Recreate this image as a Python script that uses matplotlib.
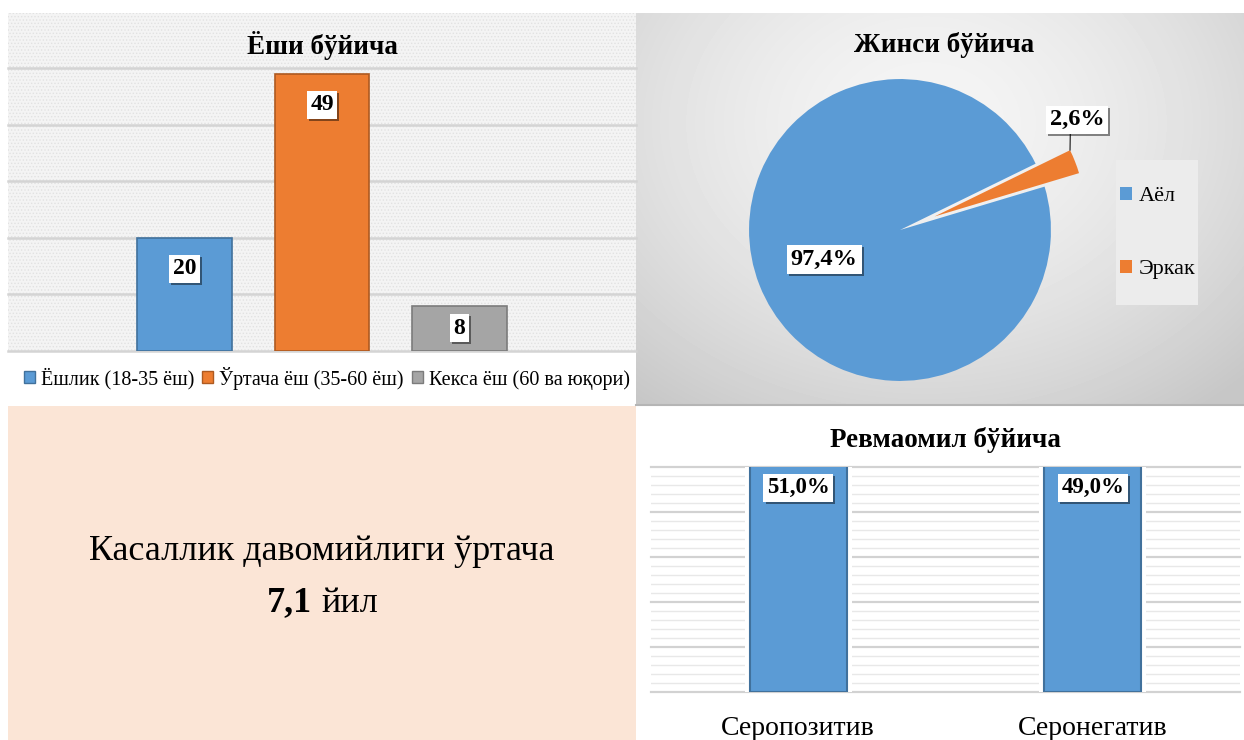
import matplotlib.pyplot as plt
import matplotlib.patches as mpatches
import matplotlib.patheffects as pe
import numpy as np

W, H = 1244, 740

# data
age_labels = ['Ёшлик (18-35 ёш)', 'Ўртача ёш (35-60 ёш)', 'Кекса ёш (60 ва юқори)']
age_counts = [20, 49, 8]
age_colors = ['#5b9bd5', '#ed7d31', '#a5a5a5']
age_edges = ['#41719c', '#ae5a21', '#7c7c7c']

sex_labels = ['Аёл', 'Эркак']
sex_pct = [97.4, 2.6]
sex_colors = ['#5b9bd5', '#ed7d31']

rf_labels = ['Серопозитив', 'Серонегатив']
rf_pct = [51.0, 49.0]

duration_years = 7.1


def fmt(v):
    return f'{v:.1f}'.replace('.', ',')


def px(x0, y0, x1, y1):
    # pixel box (top-left origin) -> figure fraction rect
    return [x0 / W, 1 - y1 / H, (x1 - x0) / W, (y1 - y0) / H]


def shadow_box(t):
    t.get_bbox_patch().set_path_effects(
        [pe.withSimplePatchShadow(offset=(1.5, -1.5), shadow_rgbFace='black', alpha=0.45)])


plt.rcParams['font.family'] = ['Liberation Serif', 'DejaVu Serif']
plt.rcParams['hatch.linewidth'] = 0.6

fig = plt.figure(figsize=(W / 100, H / 100), dpi=100)

# panel backgrounds
bg = fig.add_axes([0, 0, 1, 1])
bg.axis('off')
bg.add_patch(mpatches.Rectangle((8, 13), 628, 339, facecolor='#f4f4f4',
                                edgecolor='#e2e2e2', hatch='.....', lw=0))
bg.add_patch(mpatches.Rectangle((8, 406), 628, 334, facecolor='#fbe5d6', lw=0))
yy, xx = np.mgrid[0:391, 0:608]
d = np.hypot((xx - 290) / 420, (yy - 110) / 330)
grad = np.clip(0.96 - 0.16 * d ** 1.6, 0.78, 0.96)
bg.imshow(grad, cmap='gray', vmin=0, vmax=1, extent=(636, 1244, 404, 13),
          aspect='auto', interpolation='bilinear')
bg.plot([636, 1244], [404.5, 404.5], color='#b5b5b5', lw=1.5)
bg.add_patch(mpatches.Rectangle((1116, 160), 82, 145, facecolor='#ececec', lw=0))
bg.set_xlim(0, W)
bg.set_ylim(H, 0)

# --- age bar chart ---
ax1 = fig.add_axes(px(8, 68, 636, 351))
ax1.patch.set_alpha(0)
x = np.arange(len(age_counts)) - 1
ax1.bar(x, age_counts, width=0.69, color=age_colors, edgecolor=age_edges, lw=1.2, zorder=3)
ax1.set_xlim(-2.285, 2.285)
ax1.set_ylim(0, 50)
ax1.set_yticks(range(0, 51, 10))
ax1.grid(axis='y', color='#d4d4d4', lw=1.8)
for gl in ax1.get_ygridlines():
    gl.set_clip_on(False)
ax1.tick_params(left=False, bottom=False, labelleft=False, labelbottom=False)
for s in ax1.spines.values():
    s.set_visible(False)
for xi, v in zip(x, age_counts):
    t = ax1.text(xi, v - min(5.5, v / 2), str(v), ha='center', va='center',
                 fontsize=17, fontweight='bold', zorder=4,
                 bbox=dict(fc='white', ec='none', pad=2.5))
    shadow_box(t)
fig.text(322 / W, 1 - 45 / H, 'Ёши бўйича', ha='center', va='center',
         fontsize=19.5, fontweight='bold')
handles = [mpatches.Patch(fc=c, ec=e) for c, e in zip(age_colors, age_edges)]
fig.legend(handles, age_labels, loc='center', bbox_to_anchor=(327 / W, 1 - 378 / H),
           ncol=3, frameon=False, fontsize=14.5, handlelength=0.55, handleheight=0.55,
           handletextpad=0.3, columnspacing=0.4)

# --- sex pie chart ---
ax2 = fig.add_axes(px(700, 30, 1100, 430))
ax2.patch.set_alpha(0)
wedges, _ = ax2.pie(sex_pct, colors=sex_colors, startangle=16.7, counterclock=False,
                    explode=[0, 0.245], wedgeprops=dict(edgecolor='none'))
ax2.set_xlim(-1.325, 1.325)
ax2.set_ylim(-1.325, 1.325)
ax2.set_aspect('equal')
ax2.axis('off')

w0 = wedges[0]
mid = np.deg2rad((w0.theta1 + w0.theta2) / 2)
t = ax2.text(0.54 * np.cos(mid), 0.54 * np.sin(mid), fmt(sex_pct[0]) + '%',
             ha='center', va='center', fontsize=17.5, fontweight='bold',
             bbox=dict(fc='white', ec='none', pad=3))
shadow_box(t)

w1 = wedges[1]
cx, cy = w1.center
ang = np.deg2rad(max(w1.theta1, w1.theta2))
tip = (cx + np.cos(ang), cy + np.sin(ang))
t = ax2.annotate(fmt(sex_pct[1]) + '%', xy=tip, xytext=(5, 22), textcoords='offset points',
                 ha='center', va='center', fontsize=17.5, fontweight='bold',
                 bbox=dict(fc='white', ec='none', pad=2.5),
                 arrowprops=dict(arrowstyle='-', color='#404040', lw=1,
                                 relpos=(0.38, 0), shrinkA=0, shrinkB=0))
shadow_box(t)

ax2.legend(wedges, sex_labels, loc='center', bbox_to_anchor=(1158 / W, 1 - 233 / H),
           bbox_transform=fig.transFigure, fontsize=16, labelspacing=2.4,
           handlelength=0.55, handleheight=0.55, handletextpad=0.3, frameon=False)
fig.text(944 / W, 1 - 45 / H, 'Жинси бўйича', ha='center', va='center',
         fontsize=19.5, fontweight='bold')

# --- disease duration text ---
fig.text(322 / W, 1 - 552 / H, 'Касаллик давомийлиги ўртача', ha='center', va='center',
         fontsize=26)
fig.text(312 / W, 1 - 603 / H, fmt(duration_years), ha='right', va='center',
         fontsize=26, fontweight='bold')
fig.text(321 / W, 1 - 603 / H, 'йил', ha='left', va='center', fontsize=26)

# --- rheumatoid factor bar chart ---
ymax = 45
ax3 = fig.add_axes(px(651, 467, 1240, 692))
ax3.patch.set_alpha(0)
xr = np.arange(len(rf_pct))
ax3.bar(xr, rf_pct, width=0.364, color='white', zorder=2)
ax3.bar(xr, rf_pct, width=0.33, color='#5b9bd5', edgecolor='#41719c', lw=1.5, zorder=3)
ax3.set_xlim(-0.5, 1.5)
ax3.set_ylim(0, ymax)
ax3.set_yticks(np.linspace(0, ymax, 6))
ax3.set_yticks(np.linspace(0, ymax, 26), minor=True)
ax3.grid(axis='y', which='major', color='#d2d2d2', lw=1.6, zorder=1)
ax3.grid(axis='y', which='minor', color='#e8e8e8', lw=1.0, zorder=1)
for gl in ax3.get_ygridlines():
    gl.set_clip_on(False)
ax3.set_xticks(xr)
ax3.set_xticklabels(rf_labels, fontsize=20)
ax3.tick_params(axis='x', length=0, pad=17)
ax3.tick_params(axis='y', which='both', left=False, labelleft=False)
for s in ax3.spines.values():
    s.set_visible(False)
for xi, v in zip(xr, rf_pct):
    t = ax3.annotate(fmt(v) + '%', xy=(xi, min(v, ymax)), xytext=(0, -15),
                     textcoords='offset points', ha='center', va='center',
                     fontsize=16.5, fontweight='bold', zorder=4,
                     bbox=dict(fc='white', ec='none', pad=2.5))
    shadow_box(t)
fig.text(945 / W, 1 - 440 / H, 'Ревмаомил бўйича', ha='center', va='center',
         fontsize=19.5, fontweight='bold')

fig.savefig('out.png', dpi=100)
